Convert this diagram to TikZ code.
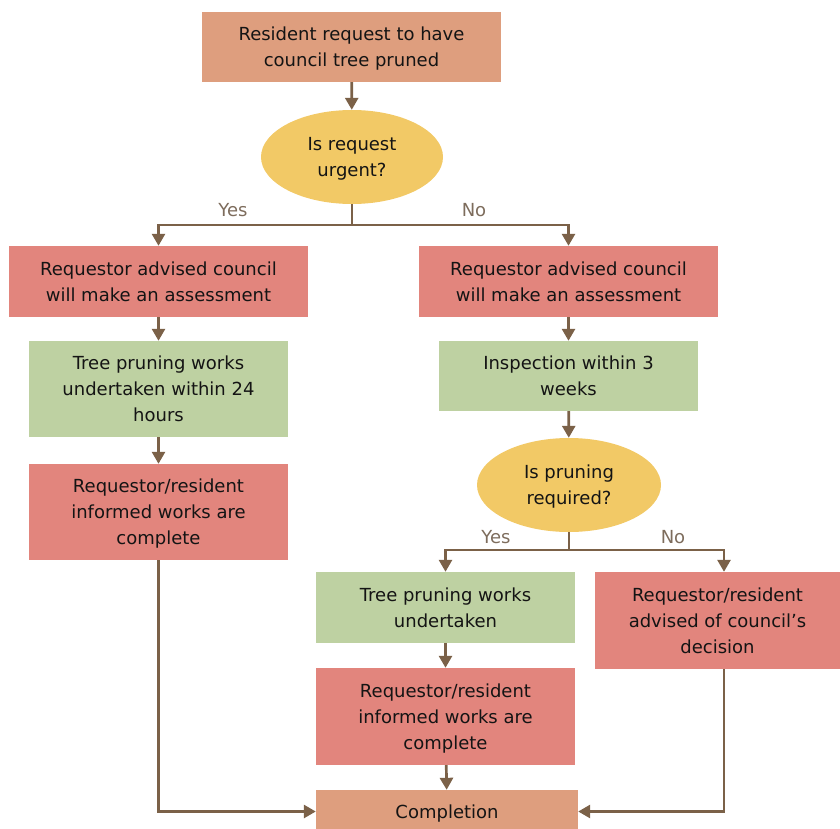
\documentclass[tikz,border=0pt]{standalone}
\usepackage{fontspec}
\setmainfont{DejaVu Sans}
\usetikzlibrary{arrows.meta,shapes.geometric,calc}
\definecolor{cOrange}{RGB}{222,158,126}
\definecolor{cRed}{RGB}{226,133,125}
\definecolor{cGreen}{RGB}{190,209,162}
\definecolor{cYellow}{RGB}{242,201,102}
\definecolor{cLine}{RGB}{123,97,72}
\definecolor{cLbl}{RGB}{125,108,92}
\definecolor{cText}{RGB}{20,20,20}
\tikzset{
  box/.style={rectangle, inner sep=0pt, align=center, text=cText, text depth=0pt,
    font=\fontsize{18}{26}\selectfont},
  orangebox/.style={box, fill=cOrange},
  redbox/.style={box, fill=cRed},
  greenbox/.style={box, fill=cGreen},
  decision/.style={ellipse, inner sep=0pt, fill=cYellow, align=center, text=cText, text depth=0pt,
    font=\fontsize{18}{26}\selectfont},
  conn/.style={draw=cLine, line width=2.7pt, -{Triangle[length=12pt,width=13pt]}},
  plain/.style={draw=cLine, line width=2.7pt},
  lbl/.style={text=cLbl, font=\fontsize{18}{20}\selectfont, inner sep=0pt}
}
\begin{document}
\begin{tikzpicture}[x=1pt,y=-1pt]
\useasboundingbox (0,0) rectangle (840,829);
% nodes
\node[orangebox, minimum width=299pt, minimum height=70pt] (top) at (351.5,47) {Resident request to have\\council tree pruned};
\node[decision, minimum width=182pt, minimum height=94pt] (e1) at (352,157) {Is request\\urgent?};
\node[redbox, minimum width=299pt, minimum height=71pt] (L1) at (158.5,281.5) {Requestor advised council\\will make an assessment};
\node[redbox, minimum width=299pt, minimum height=71pt] (R1) at (568.5,281.5) {Requestor advised council\\will make an assessment};
\node[greenbox, minimum width=259pt, minimum height=96pt] (L2) at (158.5,389) {Tree pruning works\\undertaken within 24\\hours};
\node[redbox, minimum width=259pt, minimum height=96pt] (L3) at (158.5,512) {Requestor/resident\\informed works are\\complete};
\node[greenbox, minimum width=259pt, minimum height=70pt] (R2) at (568.5,376) {Inspection within 3\\weeks};
\node[decision, minimum width=184pt, minimum height=94pt] (e2) at (569,485) {Is pruning\\required?};
\node[greenbox, minimum width=259pt, minimum height=71pt] (T) at (445.5,607.5) {Tree pruning works\\undertaken};
\node[redbox, minimum width=245pt, minimum height=97pt] (A) at (717.5,620.5) {Requestor/resident\\advised of council’s\\decision};
\node[redbox, minimum width=259pt, minimum height=97pt] (B) at (445.5,716.5) {Requestor/resident\\informed works are\\complete};
\node[orangebox, minimum width=262pt, minimum height=43pt] (C) at (447,811.5) {Completion};
% labels
\node[lbl] (yes1) at (233,210) {Yes};
\node[lbl] (no1) at (474,210) {No};
\node[lbl] (yes2) at (496,537) {Yes};
\node[lbl] (no2) at (673,537) {No};
% connectors
\coordinate (b1) at (352,225);
\coordinate (b2) at (569,550);
\coordinate (An) at ([xshift=6.5pt]A.north);
\coordinate (As) at ([xshift=6.5pt]A.south);
\draw[conn] (top) -- (e1);
\draw[plain] (e1.south) -- (b1);
\draw[conn] (b1) -| (L1.north);
\draw[conn] (b1) -| (R1.north);
\draw[conn] (L1) -- (L2);
\draw[conn] (L2) -- (L3);
\draw[conn] (R1) -- (R2);
\draw[conn] (R2) -- (e2);
\draw[plain] (e2.south) -- (b2);
\draw[conn] (b2) -| (T.north);
\draw[conn] (b2) -| (An);
\draw[conn] (T) -- (B);
\draw[conn] (B) -- (C);
\draw[conn] (L3.south) |- (C.west);
\draw[conn] (As) |- (C.east);
\end{tikzpicture}
\end{document}
